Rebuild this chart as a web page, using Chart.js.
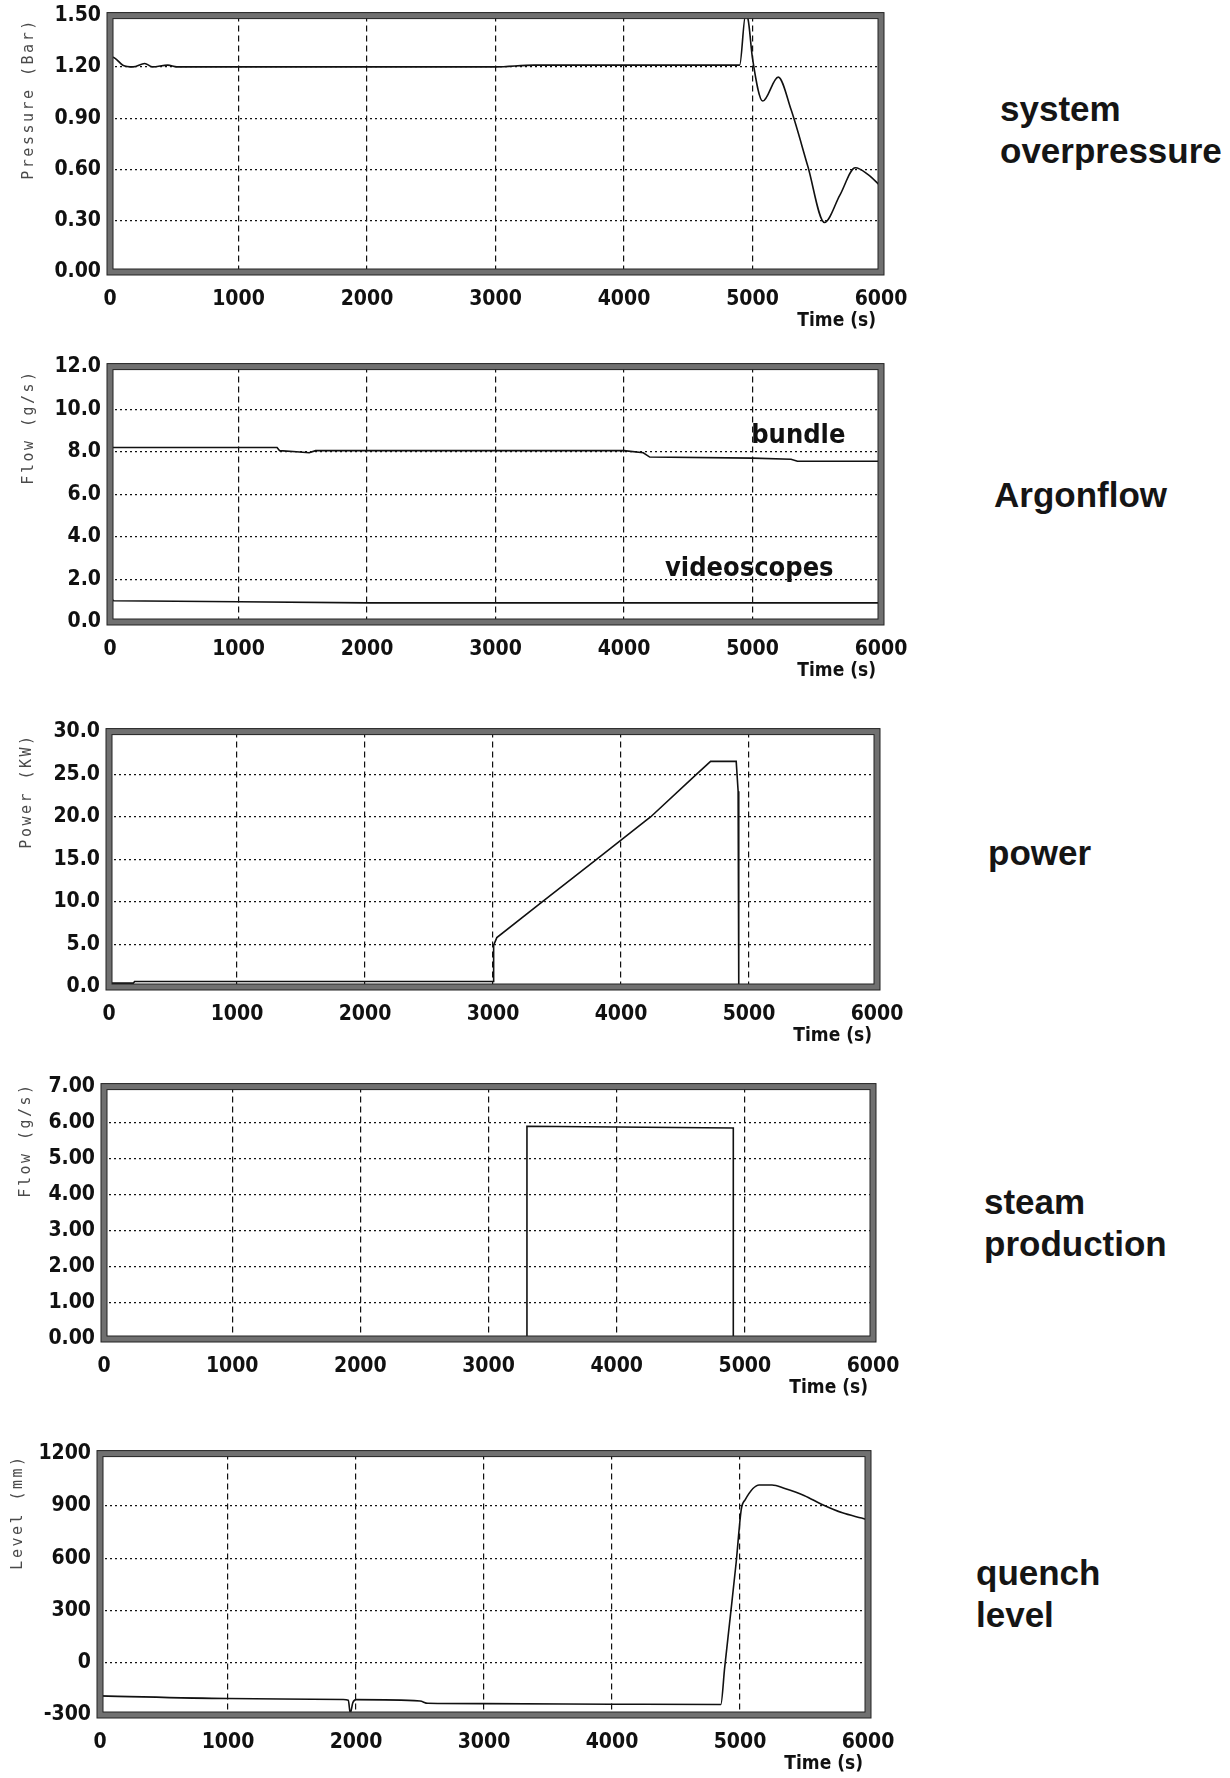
<!DOCTYPE html>
<html>
<head>
<meta charset="utf-8">
<title>Test run overview</title>
<script src="https://cdn.jsdelivr.net/npm/chart.js@4.4.1/dist/chart.umd.min.js"></script>
<style>
  body { margin: 0; background: #fff; width: 1230px; height: 1778px; position: relative; overflow: hidden; }
  canvas.plot { position: absolute; left: 0; }
  .note { position: absolute; font-family: "Liberation Sans", Arial, sans-serif; font-weight: bold;
          font-size: 35px; line-height: 42px; color: #151515; white-space: nowrap; }
</style>
</head>
<body>
<div class="note" style="left:1000px; top:88px">system<br>overpressure</div>
<div class="note" style="left:994px; top:474px">Argonflow</div>
<div class="note" style="left:988px; top:832px">power</div>
<div class="note" style="left:984px; top:1181px">steam<br>production</div>
<div class="note" style="left:976px; top:1552px">quench<br>level</div>

<script>
// Werte (Zeit in s)
const pressureTime = [0, 40, 100, 180, 270, 330, 450, 520, 1000, 2000, 3000, 3300, 3500, 4000, 4500, 4900, 4945, 4965, 5000, 5080, 5200, 5300, 5430, 5560, 5680, 5800, 5900, 6000];
const pressureBar  = [1.26, 1.25, 1.21, 1.20, 1.22, 1.20, 1.21, 1.20, 1.20, 1.20, 1.20, 1.21, 1.21, 1.21, 1.21, 1.21, 1.50, 1.48, 1.25, 1.00, 1.14, 0.95, 0.62, 0.29, 0.45, 0.61, 0.57, 0.50];

const bundleTime = [0, 1300, 1320, 1450, 1550, 1600, 4000, 4150, 4200, 5000, 5300, 5350, 6000];
const bundleFlow = [8.2, 8.2, 8.05, 8.0, 7.95, 8.05, 8.05, 7.95, 7.75, 7.7, 7.65, 7.55, 7.55];
const videoTime = [0, 30, 1000, 2000, 6000];
const videoFlow = [1.1, 1.0, 0.95, 0.9, 0.9];

const powerTime = [0, 190, 200, 3000, 3005, 3030, 3384, 3809, 4233, 4591, 4700, 4900, 4915, 4920, 6000];
const powerKW   = [0.45, 0.45, 0.65, 0.65, 4.9, 5.8, 10, 15, 20, 25, 26.5, 26.5, 23, 0, 0];

const steamTime = [0, 3300, 3300, 4910, 4910, 6000];
const steamFlow = [0, 0, 5.9, 5.85, 0, 0];

const levelTime = [0, 1000, 1900, 1940, 1955, 1975, 2000, 2500, 2560, 3000, 4000, 4850, 4880, 4925, 4970, 5010, 5040, 5150, 5250, 5350, 5500, 5650, 5800, 5950, 6000];
const levelMM   = [-190, -205, -211, -215, -290, -230, -212, -220, -233, -235, -238, -240, -30, 270, 575, 880, 935, 1020, 1020, 1000, 960, 905, 860, 830, 820];

const timeMin = 0, timeMax = 6000, timeStep = 1000;

// Layout der fuenf Diagramme: Plotrahmen [links, oben, rechts, unten] in Seitenpixeln
const panels = [
  { plot: [110, 14, 881, 272], y: [0, 1.5, 0.3], dec: 2, title: "Pressure (Bar)", titleAt: [29, 99],
    series: [{ x: pressureTime, y: pressureBar, smooth: true }] },
  { plot: [110, 365, 881, 622], y: [0, 12, 2], dec: 1, title: "Flow (g/s)", titleAt: [29, 427],
    series: [{ x: bundleTime, y: bundleFlow }, { x: videoTime, y: videoFlow }],
    labels: [{ text: "bundle", x: 4990, y: 8.4 }, { text: "videoscopes", x: 4319, y: 2.15 }] },
  { plot: [109, 730, 877, 987], y: [0, 30, 5], dec: 1, title: "Power (KW)", titleAt: [27, 791],
    series: [{ x: powerTime, y: powerKW }] },
  { plot: [104, 1085, 873, 1339], y: [0, 7, 1], dec: 2, title: "Flow (g/s)", titleAt: [26, 1140],
    series: [{ x: steamTime, y: steamFlow }] },
  { plot: [100, 1452, 868, 1715], y: [-300, 1200, 300], dec: 0, title: "Level (mm)", titleAt: [18, 1512],
    series: [{ x: levelTime, y: levelMM, smooth: true }] }
];

const tickFont = { family: "'DejaVu Sans Condensed', sans-serif", size: 21, weight: "bold" };
const canvasW = 960;
const padTop = 20;
const below = 64;

// Rahmen, Achsentitel und Beschriftungen
function makeDecor(p, offsetY) {
  return {
    id: "decor",
    afterDatasetsDraw(chart) {
      const a = chart.chartArea;
      const ctx = chart.ctx;
      ctx.save();
      ctx.lineWidth = 6;
      ctx.strokeStyle = "#707070";
      ctx.strokeRect(a.left, a.top, a.right - a.left, a.bottom - a.top);
      ctx.lineWidth = 1;
      ctx.strokeStyle = "#222";
      ctx.strokeRect(a.left - 3, a.top - 3, a.right - a.left + 6, a.bottom - a.top + 6);
      ctx.strokeRect(a.left + 3, a.top + 3, a.right - a.left - 6, a.bottom - a.top - 6);
      ctx.restore();
    },
    afterDraw(chart) {
      const ctx = chart.ctx;
      const a = chart.chartArea;
      ctx.save();
      // y-Achsentitel, gesperrt
      ctx.translate(p.titleAt[0], p.titleAt[1] - offsetY);
      ctx.rotate(-Math.PI / 2);
      ctx.font = "15px 'DejaVu Sans Mono', monospace";
      ctx.letterSpacing = "2.5px";
      ctx.fillStyle = "#4a4a4a";
      ctx.textAlign = "center";
      ctx.textBaseline = "middle";
      ctx.fillText(p.title, 0, 0);
      ctx.restore();

      ctx.save();
      ctx.font = "bold 19px " + tickFont.family;
      ctx.fillStyle = "#111";
      ctx.textAlign = "right";
      ctx.textBaseline = "middle";
      ctx.fillText("Time (s)", a.right - 5, a.bottom + 49);
      ctx.restore();

      if (p.labels) {
        ctx.save();
        ctx.font = "bold 27px 'DejaVu Sans Condensed', sans-serif";
        ctx.fillStyle = "#111";
        ctx.textAlign = "left";
        ctx.textBaseline = "alphabetic";
        p.labels.forEach(l => {
          ctx.fillText(l.text, chart.scales.x.getPixelForValue(l.x), chart.scales.y.getPixelForValue(l.y));
        });
        ctx.restore();
      }
    }
  };
}

panels.forEach(p => {
  const [L, T, R, B] = p.plot;
  const h = B - T + padTop + below;
  const offsetY = T - padTop;
  const cv = document.createElement("canvas");
  cv.className = "plot";
  cv.width = canvasW;
  cv.height = h;
  cv.style.top = offsetY + "px";
  document.body.appendChild(cv);

  new Chart(cv, {
    type: "line",
    data: {
      datasets: p.series.map(s => ({
        data: s.x.map((t, i) => ({ x: t, y: s.y[i] })),
        borderColor: "#111",
        borderWidth: 1.6,
        pointRadius: 0,
        fill: false,
        tension: 0,
        cubicInterpolationMode: s.smooth ? "monotone" : "default"
      }))
    },
    options: {
      responsive: false,
      animation: false,
      events: [],
      layout: { padding: { top: padTop, right: canvasW - R, left: 0, bottom: 0 } },
      plugins: { legend: { display: false }, tooltip: { enabled: false } },
      scales: {
        x: {
          type: "linear",
          min: timeMin,
          max: timeMax,
          afterFit: s => { s.height = below; },
          ticks: { stepSize: timeStep, color: "#111", font: tickFont, padding: 15, maxRotation: 0,
                   callback: v => String(v) },
          grid: { color: "#111", lineWidth: 1.2, drawTicks: false },
          border: { display: false, dash: [6, 4] }
        },
        y: {
          min: p.y[0],
          max: p.y[1],
          afterFit: s => { s.width = L; },
          ticks: {
            stepSize: p.y[2], color: "#111", font: tickFont, padding: 9,
            callback: v => Number(v).toFixed(p.dec)
          },
          grid: { color: "#111", lineWidth: 1.2, drawTicks: false },
          border: { display: false, dash: [2, 3] }
        }
      }
    },
    plugins: [makeDecor(p, offsetY)]
  });
});
</script>
</body>
</html>
